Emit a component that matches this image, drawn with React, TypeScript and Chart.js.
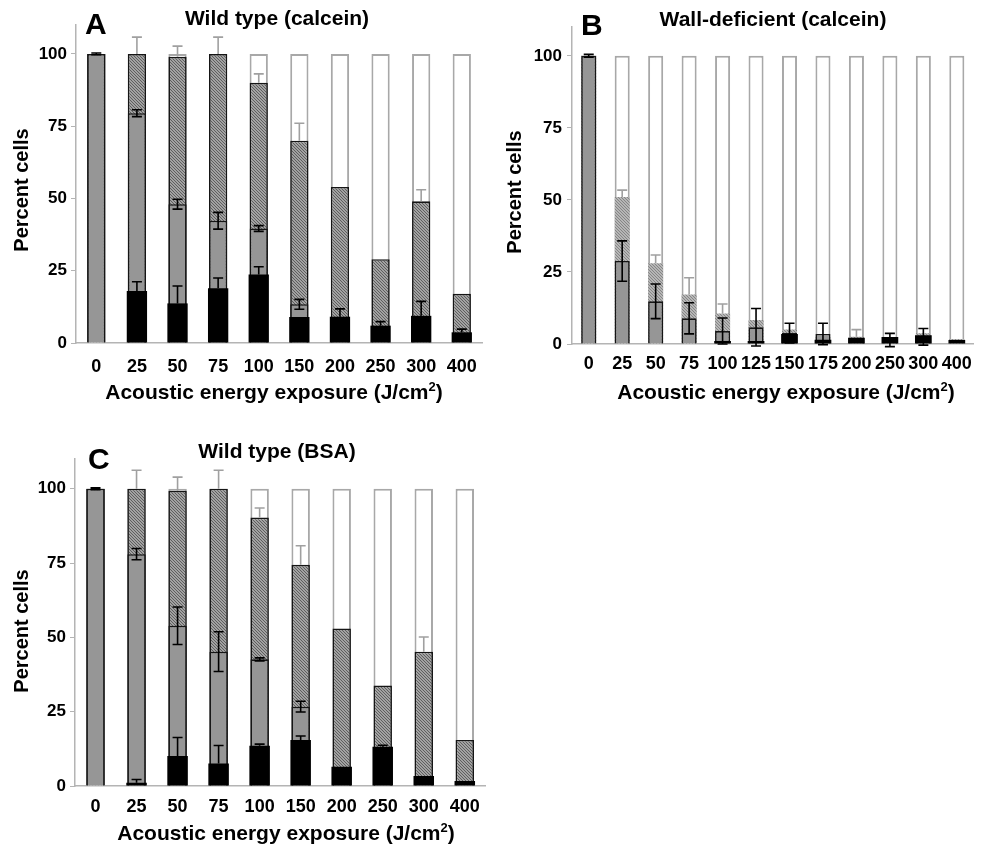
import React, { useEffect, useRef } from 'react';
import { Chart, registerables } from 'chart.js';
Chart.register(...registerables);

const FONT = '"Liberation Sans", Arial, Helvetica, sans-serif';

const Y_TICKS = [0, 25, 50, 75, 100];

// Panel A: Wild type (calcein)
const A_CATS = ['0', '25', '50', '75', '100', '150', '200', '250', '300', '400'];
const A_TOTAL = [100, 100, 100, 100, 100, 100, 100, 100, 100, 100];
const A_STIPPLE = [100, 100, 99, 100, 90, 70, 54, 29, 49, 17];
const A_STIPPLE_ERR = [0, 5.8, 3.7, 5.8, 3.1, 6, 0, 0, 4, 0];
const A_GRAY = [100, 79.5, 48, 42.3, 39.6, 13.4, 0, 0, 0, 0];
const A_GRAY_ERR = [0.3, 1.2, 1.7, 2.9, 1, 1.7, 0, 0, 0, 0];
const A_BLACK = [0, 18, 13.7, 18.9, 23.7, 9, 9.1, 6, 9.4, 3.7];
const A_BLACK_ERR = [0, 3.2, 6, 3.6, 2.7, 0, 2.7, 1.4, 5, 1.1];

// Panel B: Wall-deficient (calcein)
const B_CATS = ['0', '25', '50', '75', '100', '125', '150', '175', '200', '250', '300', '400'];
const B_TOTAL = [100, 100, 100, 100, 100, 100, 100, 100, 100, 100, 100, 100];
const B_STIPPLE = [100, 51, 28, 17.2, 10.6, 8.3, 5, 2.3, 2.5, 1.5, 3.7, 1.7];
const B_STIPPLE_ERR = [0, 2.4, 2.9, 5.8, 3.3, 0, 0, 0, 2.5, 0, 0, 0];
const B_GRAY = [100, 28.8, 14.8, 8.9, 4.5, 5.8, 3.8, 3.5, 1, 1.4, 2.5, 0];
const B_GRAY_ERR = [0.5, 7, 6, 5.4, 4.5, 6.5, 3.4, 3.7, 0, 2.3, 2.9, 0];
const B_BLACK = [0, 0, 0, 0, 1, 1, 3.5, 1.5, 2.2, 2.4, 3, 1.4];
const B_BLACK_ERR = [0, 0, 0, 0, 0, 0, 0, 0, 0, 0, 0, 0];

// Panel C: Wild type (BSA)
const C_CATS = ['0', '25', '50', '75', '100', '150', '200', '250', '300', '400'];
const C_TOTAL = [100, 100, 100, 100, 100, 100, 100, 100, 100, 100];
const C_STIPPLE = [100, 100, 99.3, 100, 90.3, 74.4, 53, 33.8, 45.2, 15.5];
const C_STIPPLE_ERR = [0, 6.2, 4.6, 6.2, 3.2, 6.4, 0, 0, 4.9, 0];
const C_GRAY = [100, 78, 53.9, 45.2, 42.6, 26.7, 5.5, 10.5, 0, 0];
const C_GRAY_ERR = [0.3, 1.9, 6.3, 6.7, 0.5, 1.8, 0.5, 1, 0, 0];
const C_BLACK = [0, 1.1, 10.1, 7.6, 13.5, 15.5, 6.5, 13.2, 3.4, 1.7];
const C_BLACK_ERR = [0, 1.1, 6.2, 6, 0.6, 1.3, 0, 0.5, 0, 0];

const X_TITLE_MAIN = 'Acoustic energy exposure (J/cm';
const X_TITLE_SUP = '2';
const X_TITLE_END = ')';
const Y_TITLE = 'Percent cells';

type Spec = {
  x: number; y: number; w: number; h: number;
  left: number; right: number; top: number; bottom: number;
  tickPadX: number; tickPadY: number;
  cats: string[]; total: number[]; stip: number[]; stipErr: number[];
  gray: number[]; grayErr: number[]; black: number[]; blackErr: number[];
  letter: string; letterX: number; letterY: number;
  title: string; titleX: number; titleY: number;
  yTitleX: number; yTitleY: number; xTitleX: number; xTitleY: number;
  light: boolean;
};

const SPECS: Spec[] = [
  {
    x: 0, y: 0, w: 490, h: 410, left: 76, right: 486, top: 25, bottom: 343,
    tickPadX: 13, tickPadY: 4,
    cats: A_CATS, total: A_TOTAL, stip: A_STIPPLE, stipErr: A_STIPPLE_ERR,
    gray: A_GRAY, grayErr: A_GRAY_ERR, black: A_BLACK, blackErr: A_BLACK_ERR,
    letter: 'A', letterX: 85, letterY: 34, title: 'Wild type (calcein)', titleX: 277, titleY: 19,
    yTitleX: 22, yTitleY: 190, xTitleX: 274, xTitleY: 392, light: false,
  },
  {
    x: 490, y: 0, w: 491, h: 410, left: 82, right: 487, top: 27, bottom: 344,
    tickPadX: 9, tickPadY: 5,
    cats: B_CATS, total: B_TOTAL, stip: B_STIPPLE, stipErr: B_STIPPLE_ERR,
    gray: B_GRAY, grayErr: B_GRAY_ERR, black: B_BLACK, blackErr: B_BLACK_ERR,
    letter: 'B', letterX: 91, letterY: 35, title: 'Wall-deficient (calcein)', titleX: 283, titleY: 20,
    yTitleX: 25, yTitleY: 192, xTitleX: 296, xTitleY: 392, light: true,
  },
  {
    x: 0, y: 420, w: 490, h: 428, left: 75, right: 486, top: 39, bottom: 366,
    tickPadX: 10, tickPadY: 4,
    cats: C_CATS, total: C_TOTAL, stip: C_STIPPLE, stipErr: C_STIPPLE_ERR,
    gray: C_GRAY, grayErr: C_GRAY_ERR, black: C_BLACK, blackErr: C_BLACK_ERR,
    letter: 'C', letterX: 88, letterY: 49, title: 'Wild type (BSA)', titleX: 277, titleY: 32,
    yTitleX: 22, yTitleY: 211, xTitleX: 286, xTitleY: 413, light: false,
  },
];

function makePattern(dark: string, light: string): CanvasPattern | string {
  const c = document.createElement('canvas');
  c.width = 3; c.height = 3;
  const g = c.getContext('2d');
  if (!g) return light;
  for (let i = 0; i < 3; i++) {
    for (let j = 0; j < 3; j++) {
      g.fillStyle = (i - j + 3) % 3 === 0 ? dark : light;
      g.fillRect(i, j, 1, 1);
    }
  }
  return g.createPattern(c, 'repeat') || light;
}

function Panel({ spec }: { spec: Spec }) {
  const ref = useRef<HTMLCanvasElement>(null);
  useEffect(() => {
    const canvas = ref.current;
    if (!canvas) return;
    const stipFill = spec.light ? makePattern('#858585', '#b6b6b6') : makePattern('#5e5e5e', '#a2a2a2');

    const errPlugin = {
      id: 'errbars',
      afterDatasetsDraw(chart: any) {
        const ctx = chart.ctx;
        const ys = chart.scales.y;
        const n = chart.data.datasets.length;
        for (let d = n - 1; d >= 0; d--) {
          const ds: any = chart.data.datasets[d];
          if (!ds.errors) continue;
          const meta = chart.getDatasetMeta(d);
          ctx.save();
          ctx.strokeStyle = ds.errColor;
          ctx.lineWidth = 1.6;
          ctx.beginPath();
          ds.errors.forEach((e: number, i: number) => {
            if (!e) return;
            const v = ds.data[i];
            const el = meta.data[i];
            if (!el) return;
            const x = el.x;
            const cap = 5;
            const yt = ys.getPixelForValue(v + e);
            const yb = ds.errBoth ? ys.getPixelForValue(v - e) : ys.getPixelForValue(v);
            ctx.moveTo(x, yt); ctx.lineTo(x, yb);
            ctx.moveTo(x - cap, yt); ctx.lineTo(x + cap, yt);
            if (ds.errBoth) { ctx.moveTo(x - cap, yb); ctx.lineTo(x + cap, yb); }
          });
          ctx.stroke();
          ctx.restore();
        }
      },
    };

    const decoPlugin = {
      id: 'deco',
      afterDraw(chart: any) {
        const ctx = chart.ctx;
        ctx.save();
        ctx.fillStyle = '#000';
        // panel letter
        ctx.font = `bold 30px ${FONT}`;
        ctx.textAlign = 'left';
        ctx.textBaseline = 'alphabetic';
        ctx.fillText(spec.letter, spec.letterX, spec.letterY);
        // title
        ctx.font = `bold 21px ${FONT}`;
        ctx.textAlign = 'center';
        ctx.textBaseline = 'middle';
        ctx.fillText(spec.title, spec.titleX, spec.titleY);
        // y title
        ctx.font = `bold 20px ${FONT}`;
        ctx.save();
        ctx.translate(spec.yTitleX, spec.yTitleY);
        ctx.rotate(-Math.PI / 2);
        ctx.fillText(Y_TITLE, 0, 0);
        ctx.restore();
        // x title with superscript
        ctx.textAlign = 'left';
        ctx.textBaseline = 'alphabetic';
        ctx.font = `bold 21px ${FONT}`;
        const w1 = ctx.measureText(X_TITLE_MAIN).width;
        const w3 = ctx.measureText(X_TITLE_END).width;
        ctx.font = `bold 13px ${FONT}`;
        const w2 = ctx.measureText(X_TITLE_SUP).width;
        const total = w1 + w2 + w3;
        let x = spec.xTitleX - total / 2;
        const base = spec.xTitleY + 7;
        ctx.font = `bold 21px ${FONT}`;
        ctx.fillText(X_TITLE_MAIN, x, base);
        x += w1;
        ctx.font = `bold 13px ${FONT}`;
        ctx.fillText(X_TITLE_SUP, x, base - 8);
        x += w2;
        ctx.font = `bold 21px ${FONT}`;
        ctx.fillText(X_TITLE_END, x, base);
        ctx.restore();
      },
    };

    const common = { grouped: false, categoryPercentage: 1 };
    const chart = new Chart(canvas, {
      type: 'bar',
      data: {
        labels: spec.cats,
        datasets: [
          {
            ...common, label: 'black', data: spec.black, backgroundColor: '#000', borderWidth: 0,
            barPercentage: 0.5, order: 0, errors: spec.blackErr, errBoth: false, errColor: '#000',
          } as any,
          {
            ...common, label: 'gray', data: spec.gray, backgroundColor: '#969696', borderColor: '#151515',
            borderWidth: 1.6, barPercentage: 0.45, order: 1, errors: spec.grayErr, errBoth: true, errColor: '#000',
          } as any,
          {
            ...common, label: 'stipple', data: spec.stip, backgroundColor: stipFill,
            borderColor: spec.light ? 'rgba(0,0,0,0)' : '#151515', borderWidth: spec.light ? 0 : 1.6,
            barPercentage: 0.45, order: 2, errors: spec.stipErr, errBoth: false, errColor: '#a0a0a0',
          } as any,
          {
            ...common, label: 'total', data: spec.total, backgroundColor: '#ffffff', borderColor: '#a8a8a8',
            borderWidth: 2, barPercentage: 0.45, order: 3,
          } as any,
        ],
      },
      options: {
        responsive: false,
        animation: false,
        devicePixelRatio: 1,
        layout: { padding: { top: spec.top, right: spec.w - spec.right, left: 0, bottom: 0 } },
        plugins: { legend: { display: false }, tooltip: { enabled: false }, title: { display: false } },
        scales: {
          x: {
            type: 'category',
            offset: true,
            grid: { display: false, drawTicks: false },
            border: { display: true, color: '#b4b4b4', width: 1.5 },
            ticks: {
              color: '#000', padding: spec.tickPadX, autoSkip: false, maxRotation: 0,
              font: { family: FONT, size: 18, weight: 'bold' },
            },
            afterFit: (s: any) => { s.height = spec.h - spec.bottom; },
          },
          y: {
            min: 0, max: 110,
            afterBuildTicks: (s: any) => { s.ticks = Y_TICKS.map((v) => ({ value: v })); },
            grid: { drawOnChartArea: false, drawTicks: true, tickLength: 5, color: '#b4b4b4' },
            border: { display: true, color: '#b4b4b4', width: 1.5 },
            ticks: {
              color: '#000', padding: spec.tickPadY,
              font: { family: FONT, size: 17, weight: 'bold' },
            },
            afterFit: (s: any) => { s.width = spec.left; },
          },
        },
      } as any,
      plugins: [errPlugin, decoPlugin],
    });
    return () => chart.destroy();
  }, [spec]);
  return (
    <canvas
      ref={ref}
      width={spec.w}
      height={spec.h}
      style={{ position: 'absolute', left: spec.x, top: spec.y, width: spec.w, height: spec.h }}
    />
  );
}

export default function App() {
  return (
    <div style={{ position: 'absolute', left: 0, top: 0, width: 981, height: 848, background: '#fff' }}>
      {SPECS.map((s) => (
        <Panel key={s.letter} spec={s} />
      ))}
    </div>
  );
}
